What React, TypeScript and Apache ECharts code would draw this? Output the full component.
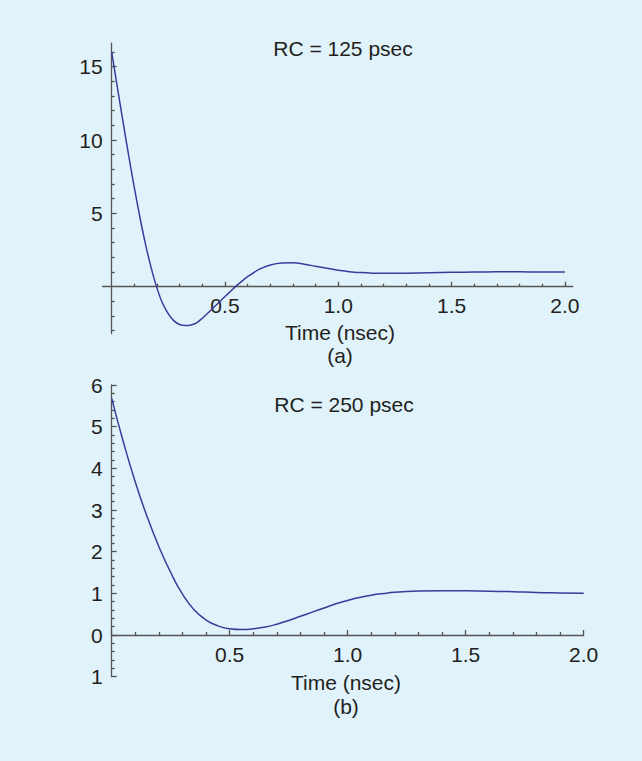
import React, { useEffect, useRef } from "react";
import * as echarts from "echarts";

// ---- data ----
const timeA = [0, 0.025, 0.05, 0.075, 0.1, 0.125, 0.15, 0.175, 0.2, 0.225, 0.25, 0.275, 0.3, 0.325, 0.35, 0.375, 0.4, 0.425, 0.45, 0.475, 0.5, 0.525, 0.55, 0.575, 0.6, 0.65, 0.7, 0.75, 0.8, 0.85, 0.9, 0.95, 1.0, 1.05, 1.1, 1.15, 1.2, 1.25, 1.3, 1.4, 1.5, 1.6, 1.7, 1.8, 1.9, 2.0];
const valuesA = [16.0, 13.6, 11.25, 8.95, 6.75, 4.7, 2.85, 1.25, -0.1, -1.15, -1.85, -2.33, -2.58, -2.65, -2.61, -2.47, -2.15, -1.8, -1.42, -1.04, -0.67, -0.31, 0.05, 0.38, 0.68, 1.18, 1.48, 1.62, 1.63, 1.53, 1.39, 1.25, 1.12, 1.02, 0.96, 0.92, 0.91, 0.91, 0.92, 0.95, 0.98, 1.0, 1.01, 1.01, 1.0, 1.0];

const timeB = [0, 0.05, 0.1, 0.15, 0.2, 0.25, 0.3, 0.35, 0.4, 0.45, 0.5, 0.55, 0.6, 0.65, 0.7, 0.75, 0.8, 0.85, 0.9, 0.95, 1.0, 1.05, 1.1, 1.15, 1.2, 1.3, 1.4, 1.5, 1.6, 1.7, 1.8, 1.9, 2.0];
const valuesB = [5.68, 4.62, 3.67, 2.84, 2.12, 1.5, 0.98, 0.6, 0.36, 0.22, 0.15, 0.13, 0.15, 0.19, 0.26, 0.35, 0.45, 0.55, 0.65, 0.75, 0.83, 0.9, 0.955, 0.995, 1.025, 1.055, 1.065, 1.06, 1.05, 1.04, 1.02, 1.01, 1.0];

const xLabelsA = [0.5, 1.0, 1.5, 2.0];
const xMinorA = [0.1, 0.2, 0.3, 0.4, 0.6, 0.7, 0.8, 0.9, 1.1, 1.2, 1.3, 1.4, 1.6, 1.7, 1.8, 1.9];
const yLabelsA = [5, 10, 15];
const yMinorA = [-3, -2, -1, 1, 2, 3, 4, 6, 7, 8, 9, 11, 12, 13, 14, 16];

const titleA = "RC = 125 psec";
const titleB = "RC = 250 psec";
const xTitle = "Time (nsec)";
const captionA = "(a)";
const captionB = "(b)";

const FONT = "'Liberation Sans', Arial, Helvetica, sans-serif";
const TEXT = "#231f20";
const AXIS = "#555555";
const CURVE = "#3a3c9c";
const BG = "#e0f2fa";

export default function App() {
  const ref = useRef<HTMLDivElement>(null);

  useEffect(() => {
    document.body.style.margin = "0";
    if (!ref.current) return;
    const chart = echarts.init(ref.current, null, { renderer: "svg" });

    const axisLineStyle = { color: AXIS, width: 1.3 };
    const labelStyle = { color: TEXT, fontSize: 21, fontFamily: FONT };
    const hidden = (gridIndex: number, min: number, max: number) => ({
      type: "value", gridIndex, min, max, show: false, splitLine: { show: false },
    });

    // pixel geometry of chart (a)
    const aLeft = 102.6, aTop = 43.2, aW = 470.2, aH = 290.4;
    const aZeroY = 286.7, aZeroX = 111.7;
    // chart (b)
    const bLeft = 111.7, bTop = 385, bW = 472, bH = 291.7, bZeroY = 635;

    const option: any = {
      animation: false,
      backgroundColor: "transparent",
      grid: [
        { left: aLeft, top: aTop, width: aW, height: aH },
        { left: aLeft, top: aTop, width: aW, height: aZeroY - aTop },
        { left: aZeroX, top: aTop, width: aLeft + aW - aZeroX, height: aH },
        { left: bLeft, top: bTop, width: bW, height: bH },
        { left: bLeft, top: bTop, width: bW, height: bZeroY - bTop },
      ],
      xAxis: [
        hidden(0, -0.04, 2.035),
        {
          type: "value", gridIndex: 1, min: -0.04, max: 2.035, position: "bottom",
          axisLine: { show: true, onZero: false, lineStyle: axisLineStyle },
          axisTick: { show: true, inside: true, length: 5, customValues: xLabelsA, lineStyle: axisLineStyle },
          axisLabel: { show: true, customValues: xLabelsA, formatter: (v: number) => v.toFixed(1), margin: 8, ...labelStyle },
          splitLine: { show: false },
        },
        {
          type: "value", gridIndex: 1, min: -0.04, max: 2.035, position: "bottom",
          axisLine: { show: false, onZero: false },
          axisTick: { show: true, inside: true, length: 3, customValues: xMinorA, lineStyle: axisLineStyle },
          axisLabel: { show: false },
          splitLine: { show: false },
        },
        hidden(2, 0, 2.035),
        hidden(3, 0, 2),
        {
          type: "value", gridIndex: 4, min: 0, max: 2, interval: 0.5, position: "bottom",
          axisLine: { show: true, onZero: false, lineStyle: axisLineStyle },
          axisTick: { show: true, inside: true, length: 5, lineStyle: axisLineStyle },
          minorTick: { show: true, splitNumber: 5, length: 3, lineStyle: axisLineStyle },
          axisLabel: { show: true, formatter: (v: number) => (v === 0 ? "" : v.toFixed(1)), margin: 9, ...labelStyle },
          splitLine: { show: false },
        },
      ],
      yAxis: [
        hidden(0, -3.2, 16.6),
        hidden(1, 0, 16.6),
        {
          type: "value", gridIndex: 2, min: -3.2, max: 16.6, position: "left",
          axisLine: { show: true, onZero: false, lineStyle: axisLineStyle },
          axisTick: { show: true, inside: true, length: 5, customValues: yLabelsA, lineStyle: axisLineStyle },
          axisLabel: { show: true, customValues: yLabelsA, margin: 9, ...labelStyle },
          splitLine: { show: false },
        },
        {
          type: "value", gridIndex: 2, min: -3.2, max: 16.6, position: "left", offset: 0,
          axisLine: { show: false, onZero: false },
          axisTick: { show: true, inside: true, length: 3, customValues: yMinorA, lineStyle: axisLineStyle },
          axisLabel: { show: false },
          splitLine: { show: false },
        },
        {
          type: "value", gridIndex: 3, min: -1, max: 6, interval: 1, position: "left",
          axisLine: { show: true, onZero: false, lineStyle: axisLineStyle },
          axisTick: { show: true, inside: true, length: 5, lineStyle: axisLineStyle },
          minorTick: { show: true, splitNumber: 5, length: 3, lineStyle: axisLineStyle },
          axisLabel: { show: true, formatter: (v: number) => String(Math.abs(v)), margin: 9, ...labelStyle },
          splitLine: { show: false },
        },
        hidden(4, 0, 6),
      ],
      series: [
        {
          type: "line", xAxisIndex: 0, yAxisIndex: 0, smooth: 0.3, showSymbol: false,
          lineStyle: { color: CURVE, width: 1.5 },
          data: timeA.map((t, i) => [t, valuesA[i]]),
        },
        {
          type: "line", xAxisIndex: 4, yAxisIndex: 4, smooth: 0.5, showSymbol: false,
          lineStyle: { color: CURVE, width: 1.5 },
          data: timeB.map((t, i) => [t, valuesB[i]]),
        },
      ],
      graphic: [
        { type: "text", x: 343, y: 48, style: { text: titleA, fill: TEXT, font: `21px ${FONT}`, textAlign: "center", textVerticalAlign: "middle" } },
        { type: "text", x: 340, y: 332, style: { text: xTitle, fill: TEXT, font: `21px ${FONT}`, textAlign: "center", textVerticalAlign: "middle" } },
        { type: "text", x: 340, y: 355, style: { text: captionA, fill: TEXT, font: `21px ${FONT}`, textAlign: "center", textVerticalAlign: "middle" } },
        { type: "text", x: 344, y: 404, style: { text: titleB, fill: TEXT, font: `21px ${FONT}`, textAlign: "center", textVerticalAlign: "middle" } },
        { type: "text", x: 346, y: 682, style: { text: xTitle, fill: TEXT, font: `21px ${FONT}`, textAlign: "center", textVerticalAlign: "middle" } },
        { type: "text", x: 346, y: 706, style: { text: captionB, fill: TEXT, font: `21px ${FONT}`, textAlign: "center", textVerticalAlign: "middle" } },
      ],
    };

    chart.setOption(option);
    return () => chart.dispose();
  }, []);

  return (
    <div style={{ width: 642, height: 761, background: BG }}>
      <div ref={ref} style={{ width: 642, height: 761 }} />
    </div>
  );
}
